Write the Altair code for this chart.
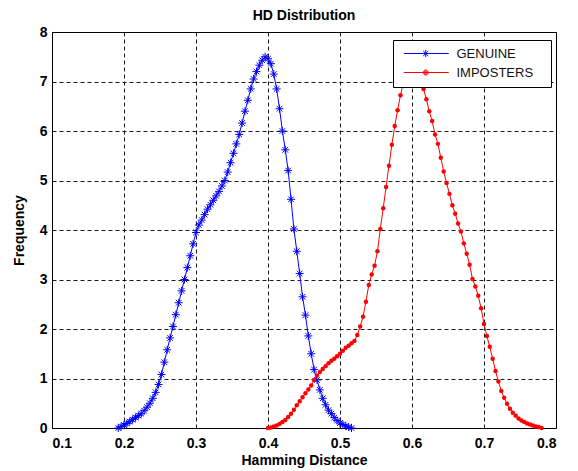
import altair as alt
import pandas as pd

# ---- data ----
genuine_hd = [0.192, 0.196, 0.200, 0.204, 0.208, 0.212, 0.216, 0.220, 0.224, 0.228,
              0.232, 0.236, 0.240, 0.244, 0.248, 0.252, 0.256, 0.260, 0.264, 0.268,
              0.272, 0.276, 0.280, 0.284, 0.288, 0.292, 0.296, 0.300, 0.304, 0.308,
              0.312, 0.316, 0.320, 0.324, 0.328, 0.332, 0.336, 0.340, 0.344, 0.348,
              0.352, 0.356, 0.360, 0.364, 0.368, 0.372, 0.376, 0.380, 0.384, 0.388,
              0.392, 0.396, 0.400, 0.404, 0.408, 0.412, 0.416, 0.420, 0.424, 0.428,
              0.432, 0.436, 0.440, 0.444, 0.448, 0.452, 0.456, 0.460, 0.464, 0.468,
              0.472, 0.476, 0.480, 0.484, 0.488, 0.492, 0.496, 0.500, 0.504, 0.508,
              0.512, 0.516]
genuine_freq = [0.00, 0.03, 0.06, 0.09, 0.13, 0.17, 0.21, 0.25, 0.29, 0.35,
                0.42, 0.50, 0.60, 0.72, 0.88, 1.08, 1.33, 1.58, 1.82, 2.05,
                2.29, 2.53, 2.77, 3.00, 3.24, 3.48, 3.72, 3.95, 4.10, 4.20,
                4.31, 4.42, 4.51, 4.60, 4.69, 4.78, 4.89, 5.00, 5.17, 5.36,
                5.55, 5.74, 5.93, 6.16, 6.40, 6.62, 6.85, 7.05, 7.20, 7.33,
                7.43, 7.50, 7.46, 7.36, 7.15, 6.85, 6.45, 6.00, 5.62, 5.20,
                4.62, 4.02, 3.57, 3.12, 2.65, 2.28, 1.86, 1.50, 1.18, 0.97,
                0.77, 0.60, 0.47, 0.36, 0.29, 0.21, 0.15, 0.10, 0.07, 0.04,
                0.02, 0.00]

imposter_hd = [0.400, 0.404, 0.408, 0.412, 0.416, 0.420, 0.424, 0.428, 0.432, 0.436,
               0.440, 0.444, 0.448, 0.452, 0.456, 0.460, 0.464, 0.468, 0.472, 0.476,
               0.480, 0.484, 0.488, 0.492, 0.496, 0.500, 0.504, 0.508, 0.512, 0.516,
               0.520, 0.524, 0.528, 0.532, 0.536, 0.540, 0.544, 0.548, 0.552, 0.556,
               0.560, 0.564, 0.568, 0.572, 0.576, 0.580, 0.584, 0.588, 0.592, 0.596,
               0.600, 0.604, 0.608, 0.612, 0.616, 0.620, 0.624, 0.628, 0.632, 0.636,
               0.640, 0.644, 0.648, 0.652, 0.656, 0.660, 0.664, 0.668, 0.672, 0.676,
               0.680, 0.684, 0.688, 0.692, 0.696, 0.700, 0.704, 0.708, 0.712, 0.716,
               0.720, 0.724, 0.728, 0.732, 0.736, 0.740, 0.744, 0.748, 0.752, 0.756,
               0.760, 0.764, 0.768, 0.772, 0.776, 0.780]
imposter_freq = [0.00, 0.01, 0.03, 0.05, 0.08, 0.12, 0.16, 0.22, 0.29, 0.37,
                 0.46, 0.54, 0.62, 0.70, 0.78, 0.86, 0.97, 1.06, 1.13, 1.19,
                 1.25, 1.31, 1.36, 1.40, 1.45, 1.50, 1.56, 1.62, 1.66, 1.71,
                 1.76, 1.88, 2.05, 2.25, 2.55, 2.89, 3.10, 3.28, 3.57, 4.02,
                 4.44, 4.87, 5.30, 5.72, 6.10, 6.42, 6.72, 6.98, 7.20, 7.37,
                 7.45, 7.40, 7.25, 7.05, 6.85, 6.64, 6.40, 6.20, 5.93, 5.74,
                 5.46, 5.18, 4.95, 4.73, 4.50, 4.33, 4.13, 3.97, 3.73, 3.52,
                 3.30, 3.01, 2.86, 2.67, 2.42, 2.10, 1.86, 1.64, 1.40, 1.15,
                 0.94, 0.75, 0.61, 0.49, 0.39, 0.31, 0.25, 0.19, 0.15, 0.12,
                 0.09, 0.07, 0.05, 0.03, 0.02, 0.00]

series_names = ["GENUINE", "IMPOSTERS"]
series_colors = ["#0000ff", "#ff0000"]
x_ticks = [0.1, 0.2, 0.3, 0.4, 0.5, 0.6, 0.7, 0.8]
y_ticks = [0, 1, 2, 3, 4, 5, 6, 7, 8]

df = pd.concat([
    pd.DataFrame({"hd": genuine_hd, "freq": genuine_freq, "series": series_names[0]}),
    pd.DataFrame({"hd": imposter_hd, "freq": imposter_freq, "series": series_names[1]}),
], ignore_index=True)

FONT = "Liberation Sans"

ASTERISK = "M-1,0L1,0M0,-1L0,1M-0.7,-0.7L0.7,0.7M-0.7,0.7L0.7,-0.7"
LEG_GEN = ("M-0.69,0L10.56,0M3.91,0L5.71,0M4.81,-0.9L4.81,0.9"
           "M4.17,-0.64L5.45,0.64M4.17,0.64L5.45,-0.64")
LEG_IMP = ("M-0.69,0L10.56,0"
           "M4.19,0A0.62,0.62,0,1,0,5.43,0A0.62,0.62,0,1,0,4.19,0"
           "M4.41,0A0.4,0.4,0,1,0,5.21,0A0.4,0.4,0,1,0,4.41,0"
           "M4.63,0A0.18,0.18,0,1,0,4.99,0A0.18,0.18,0,1,0,4.63,0")

x_axis = alt.Axis(values=x_ticks, format=".1f", title="Hamming Distance")
y_axis = alt.Axis(values=y_ticks, format="d", title="Frequency",
                  titleX=-29, titleY=198, titleBaseline="alphabetic", titleAngle=270)
x_scale = alt.Scale(domain=[0.1, 0.8], nice=False, zero=False)
y_scale = alt.Scale(domain=[0, 8], nice=False)
x_enc = alt.X("hd:Q", scale=x_scale, axis=x_axis)
y_enc = alt.Y("freq:Q", scale=y_scale, axis=y_axis)

color_scale = alt.Scale(domain=series_names, range=series_colors)

# the white one-letter title on the right only widens the legend box like the reference
legend = alt.Legend(
    title="W", titleOrient="right", titleColor="#ffffff", titleFontSize=11,
    titlePadding=0, titleFont=FONT,
    orient="none", legendX=341, legendY=8,
    padding=7, rowPadding=5, symbolSize=64, symbolStrokeWidth=1, symbolOpacity=1,
    labelOffset=43.5, labelFont=FONT, labelFontSize=13, labelColor="#111111",
    strokeColor="#000000", fillColor="#ffffff", cornerRadius=0,
)

lines = alt.Chart(df).mark_line(strokeWidth=1).encode(
    x=x_enc, y=y_enc,
    color=alt.Color("series:N", scale=color_scale, legend=legend),
)

gen_pts = alt.Chart(df).transform_filter(alt.datum.series == "GENUINE").mark_point(
    shape=ASTERISK, filled=False, size=64, strokeWidth=1, color="#0000ff", opacity=1
).encode(x=x_enc, y=y_enc)

imp_pts = alt.Chart(df).transform_filter(alt.datum.series == "IMPOSTERS").mark_circle(
    size=20, color="#ff0000", opacity=1
).encode(x=x_enc, y=y_enc)

# legend-key layer: its points sit far outside the y domain and are clipped away,
# it only gives the legend its line-plus-marker symbols
legend_layer = alt.Chart(df).transform_calculate(off="datum.freq + 100").mark_point(
    filled=False, size=64, strokeWidth=1, opacity=1, clip=True
).encode(
    x=x_enc,
    y=alt.Y("off:Q", scale=y_scale, axis=y_axis),
    color=alt.Color("series:N", scale=color_scale, legend=legend),
    shape=alt.Shape("series:N", scale=alt.Scale(domain=series_names, range=[LEG_GEN, LEG_IMP]),
                    legend=legend),
)

chart = alt.layer(lines, gen_pts, imp_pts, legend_layer).properties(
    width=504, height=396,
    title=alt.TitleParams("HD Distribution", font=FONT, fontSize=14, fontWeight="bold",
                          color="#000000", anchor="middle", offset=2),
    autosize=alt.AutoSizeParams(type="none"),
    padding={"left": 52, "top": 32, "right": 22, "bottom": 43},
).configure_view(
    stroke="#000000", strokeWidth=1, fill="#ffffff"
).configure_axis(
    labelFont=FONT, labelFontSize=14, labelFontWeight="bold", labelColor="#000000",
    titleFont=FONT, titleFontSize=14, titleFontWeight="bold", titleColor="#000000",
    ticks=False, domain=False,
    grid=True, gridColor="#000000", gridDash=[4, 3], gridWidth=1, gridOpacity=0.9,
).configure_axisX(
    labelPadding=8, titlePadding=3,
).configure_axisY(
    labelPadding=5,
)

chart.save("out.html", embed_options={"renderer": "svg", "actions": False})
